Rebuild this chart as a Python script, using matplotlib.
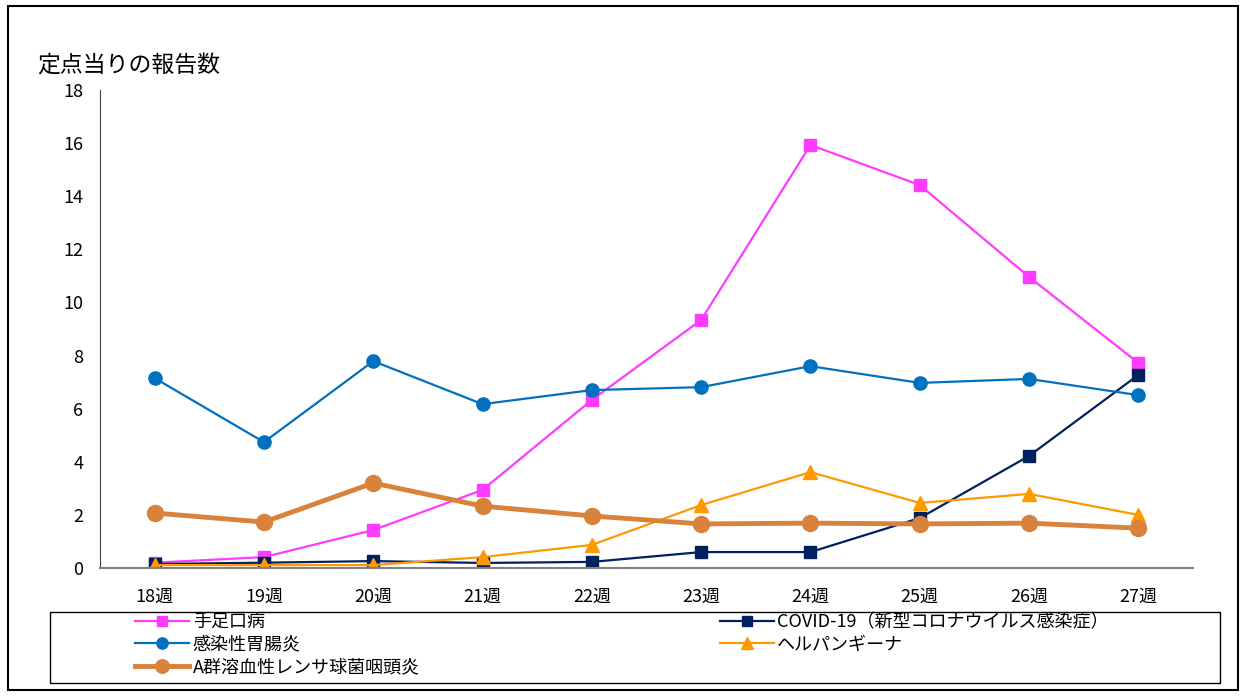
import matplotlib
matplotlib.use("Agg")
import matplotlib.pyplot as plt
from matplotlib.patches import Rectangle

plt.rcParams['font.family'] = ['Noto Sans CJK JP', 'DejaVu Sans']

weeks = ["18週", "19週", "20週", "21週", "22週", "23週", "24週", "25週", "26週", "27週"]

hfmd = [0.2, 0.41, 1.43, 2.94, 6.33, 9.34, 15.93, 14.42, 10.96, 7.72]
covid = [0.15, 0.2, 0.26, 0.19, 0.23, 0.6, 0.6, 1.88, 4.22, 7.27]
gastro = [7.15, 4.74, 7.79, 6.17, 6.7, 6.81, 7.6, 6.97, 7.12, 6.51]
herpangina = [0.11, 0.11, 0.11, 0.41, 0.87, 2.37, 3.61, 2.45, 2.79, 2.0]
strep_a = [2.07, 1.73, 3.2, 2.33, 1.96, 1.66, 1.69, 1.66, 1.69, 1.5]

names = ["手足口病", "COVID-19（新型コロナウイルス感染症）", "感染性胃腸炎",
         "ヘルパンギーナ", "A群溶血性レンサ球菌咽頭炎"]

W, H = 1243, 696
fig = plt.figure(figsize=(W / 100, H / 100), dpi=100)
ax = fig.add_axes([100 / W, 1 - 568 / H, 1093 / W, 478 / H])
xs = range(len(weeks))

l1, = ax.plot(xs, hfmd, color="#FF3BFF", lw=1.6, marker="s", ms=9, label=names[0])
l2, = ax.plot(xs, covid, color="#002060", lw=1.6, marker="s", ms=9, label=names[1])
l3, = ax.plot(xs, gastro, color="#0070C0", lw=1.6, marker="o", ms=9.5, label=names[2])
l4, = ax.plot(xs, herpangina, color="#FF9900", lw=1.6, marker="^", ms=10, label=names[3])
l5, = ax.plot(xs, strep_a, color="#D8823C", lw=3.5, marker="o", ms=11.5, label=names[4])

ax.set_xlim(-0.5, 9.5)
ax.set_ylim(0, 18)
ax.set_yticks(range(0, 19, 2))
ax.set_xticks(list(xs))
ax.set_xticklabels(weeks)
ax.tick_params(length=0, labelsize=13)
ax.tick_params(axis='x', pad=14)
ax.tick_params(axis='y', pad=12)
for s in ["top", "right"]:
    ax.spines[s].set_visible(False)
ax.spines["left"].set_color("#404040")
ax.spines["left"].set_linewidth(0.8)
ax.spines["bottom"].set_color("#808080")
ax.spines["bottom"].set_linewidth(1.5)

fig.text(37 / W, 1 - 65 / H, "定点当りの報告数", fontsize=16.5, va="center")

# legend box
fig.patches.append(Rectangle((50 / W, 1 - 683 / H), 1170 / W, 71 / H,
                             transform=fig.transFigure, fill=False,
                             edgecolor="black", lw=1.0))
leg = fig.legend([l1, l3, l5, l2, l4],
                 [names[0], names[2], names[4], names[1], names[3]],
                 ncol=2, loc="upper left",
                 bbox_to_anchor=(135 / W, 1 - 613 / H),
                 fontsize=13, handlelength=3, borderpad=0, labelspacing=0.26,
                 frameon=False, borderaxespad=0, handletextpad=0.2,
                 columnspacing=16.6, markerscale=0.85)

# outer frame
fig.patches.append(Rectangle((8 / W, 6 / H), 1230 / W, 684 / H,
                             transform=fig.transFigure, fill=False,
                             edgecolor="black", lw=1.5))

fig.savefig("out.png", dpi=100)
